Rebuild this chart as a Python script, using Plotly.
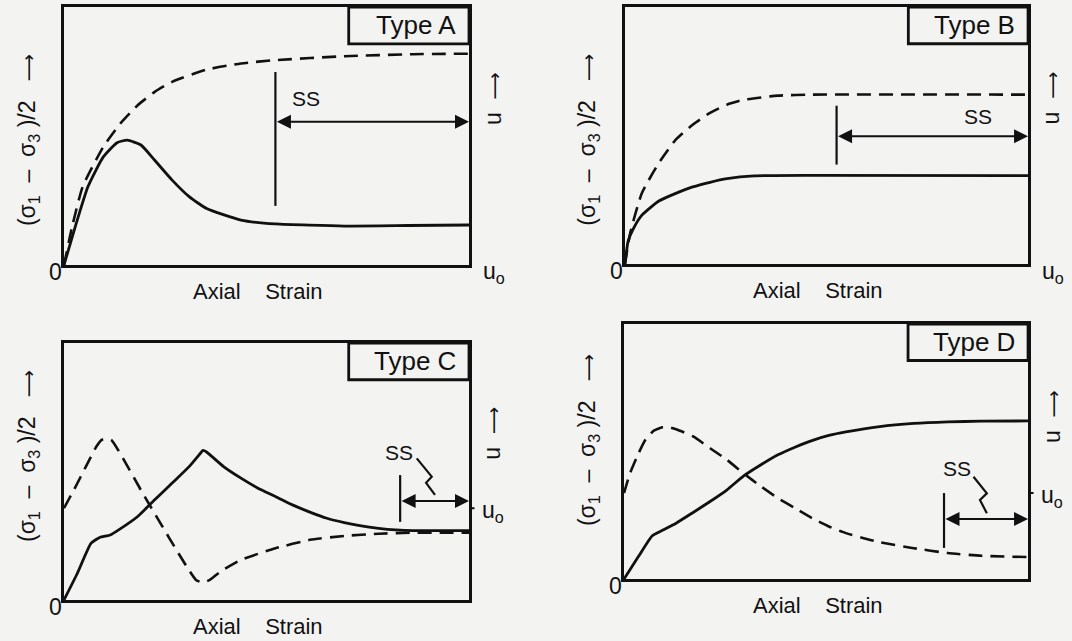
import plotly.graph_objects as go

# ---------------- data: strain (0..1) vs. normalised stress / pore pressure ----------------
# Type A
a_stress_x = [0, 0.03, 0.059, 0.097, 0.131, 0.156, 0.19, 0.224, 0.267, 0.309, 0.352, 0.437, 0.522, 0.692, 0.85, 1.0]
a_stress_y = [0, 0.16, 0.303, 0.419, 0.474, 0.484, 0.465, 0.406, 0.329, 0.265, 0.219, 0.174, 0.159, 0.151, 0.153, 0.155]
a_pore_x = [0, 0.02, 0.046, 0.097, 0.139, 0.182, 0.224, 0.267, 0.352, 0.437, 0.522, 0.692, 0.862, 1.0]
a_pore_y = [0, 0.148, 0.303, 0.458, 0.548, 0.619, 0.671, 0.71, 0.757, 0.781, 0.794, 0.809, 0.817, 0.819]

# Type B
b_stress_x = [0, 0.008, 0.02, 0.042, 0.084, 0.126, 0.168, 0.211, 0.253, 0.32, 0.46, 1.0]
b_stress_y = [0, 0.09, 0.135, 0.19, 0.245, 0.275, 0.3, 0.318, 0.332, 0.343, 0.345, 0.344]
b_pore_x = [0, 0.013, 0.042, 0.084, 0.126, 0.168, 0.211, 0.253, 0.295, 0.379, 0.463, 1.01]
b_pore_y = [0, 0.121, 0.276, 0.393, 0.484, 0.542, 0.588, 0.62, 0.639, 0.655, 0.659, 0.659]

# Type C
c_stress_x = [0, 0.033, 0.067, 0.088, 0.114, 0.135, 0.182, 0.224, 0.267, 0.309, 0.339, 0.343, 0.352,
              0.394, 0.437, 0.479, 0.522, 0.564, 0.607, 0.649, 0.692, 0.734, 0.777, 0.819, 0.862, 1.0]
c_stress_y = [0, 0.104, 0.221, 0.243, 0.253, 0.273, 0.325, 0.39, 0.455, 0.519, 0.575, 0.582, 0.576,
              0.519, 0.474, 0.435, 0.403, 0.37, 0.342, 0.318, 0.301, 0.288, 0.279, 0.273, 0.27, 0.27]
c_pore_x = [0, 0.029, 0.054, 0.08, 0.093, 0.105, 0.118, 0.2, 0.326, 0.343, 0.36, 0.386, 0.437,
            0.522, 0.607, 0.692, 0.777, 0.862, 1.0]
c_pore_y = [0.357, 0.442, 0.519, 0.597, 0.623, 0.629, 0.621, 0.4, 0.078, 0.068, 0.078, 0.11, 0.156,
            0.201, 0.234, 0.249, 0.258, 0.262, 0.262]

# Type D
d_stress_x = [0, 0.036, 0.07, 0.095, 0.129, 0.171, 0.213, 0.255, 0.297, 0.339, 0.381, 0.423, 0.465,
              0.507, 0.549, 0.633, 0.717, 0.801, 0.885, 1.0]
d_stress_y = [0, 0.089, 0.17, 0.191, 0.219, 0.261, 0.304, 0.35, 0.405, 0.448, 0.487, 0.517, 0.543,
              0.563, 0.577, 0.598, 0.61, 0.616, 0.619, 0.62]
d_pore_x = [0, 0.015, 0.036, 0.053, 0.074, 0.095, 0.112, 0.129, 0.171, 0.213, 0.255, 0.297, 0.339,
            0.381, 0.423, 0.465, 0.507, 0.549, 0.591, 0.633, 0.717, 0.801, 0.885, 1.0]
d_pore_y = [0.337, 0.415, 0.493, 0.546, 0.582, 0.595, 0.595, 0.587, 0.559, 0.513, 0.467, 0.413, 0.363,
            0.317, 0.278, 0.239, 0.206, 0.18, 0.161, 0.144, 0.121, 0.102, 0.091, 0.086]

# steady-state ("SS") markers: [x of bar, bar bottom, bar top, arrow level]
ss_a = [0.522, 0.229, 0.748, 0.555]
ss_b = [0.525, 0.387, 0.616, 0.497]
ss_c = [0.830, 0.304, 0.486, 0.385]
ss_d = [0.792, 0.122, 0.337, 0.235]
ss_label_a = [0.598, 0.645]
ss_label_b = [0.876, 0.575]
ss_label_c = [0.826, 0.574]
ss_label_d = [0.825, 0.433]
# leader zig-zags joining the SS label to its arrow
zig_c_x = [0.871, 0.908, 0.894, 0.916]
zig_c_y = [0.551, 0.480, 0.456, 0.409]
zig_d_x = [0.865, 0.898, 0.881, 0.898]
zig_d_y = [0.401, 0.336, 0.310, 0.258]

ARROW = '<span style="font-family:DejaVu Sans;font-size:19px">\u27f6</span>'
SP = "\u00a0"
type_labels = ["Type A", "Type B", "Type C", "Type D"]
x_title = "Axial" + SP * 3 + " Strain"
y_title = "(σ<sub>1</sub>" + SP + " \u2013" + SP + " σ<sub>3</sub>" + SP + ")/2" + SP * 2 + " " + ARROW
u_title = "u" + SP + " " + ARROW

# page placement of the four boxes (paper fractions)
domains = [
    ([0.0597, 0.4375], [0.5866, 0.9891]),
    ([0.5830, 0.9590], [0.5881, 0.9891]),
    ([0.0597, 0.4375], [0.0640, 0.4649]),
    ([0.5821, 0.9590], [0.0967, 0.4945]),
]

panels = [
    dict(sx=a_stress_x, sy=a_stress_y, px=a_pore_x, py=a_pore_y, ss=ss_a, lab=ss_label_a, zig=None,
         uo_mid=False, ytitle_y=0.484, u_y=0.645),
    dict(sx=b_stress_x, sy=b_stress_y, px=b_pore_x, py=b_pore_y, ss=ss_b, lab=ss_label_b, zig=None,
         uo_mid=False, ytitle_y=0.484, u_y=0.646),
    dict(sx=c_stress_x, sy=c_stress_y, px=c_pore_x, py=c_pore_y, ss=ss_c, lab=ss_label_c,
         zig=(zig_c_x, zig_c_y), uo_mid=True, ytitle_y=0.56, u_y=0.649),
    dict(sx=d_stress_x, sy=d_stress_y, px=d_pore_x, py=d_pore_y, ss=ss_d, lab=ss_label_d,
         zig=(zig_d_x, zig_d_y), uo_mid=True, ytitle_y=0.545, u_y=0.637),
]

FONT = "Liberation Sans, Arial, Helvetica, sans-serif"
INK = "#111111"
BG = "#f3f3f1"


def label(xd, yd, x, y, text, size, **kw):
    """Centred text annotation positioned in axis-domain coordinates."""
    d = dict(xref=xd, yref=yd, x=x, y=y, text=text, showarrow=False,
             xanchor="center", yanchor="middle", font=dict(size=size, family=FONT, color=INK))
    d.update(kw)
    return d


fig = go.Figure()
annotations = []
shapes = []

for i, p in enumerate(panels):
    n = "" if i == 0 else str(i + 1)
    xr, yr = "x" + n, "y" + n
    # domain references: same 0..1 mapping as the data axes, but text may sit outside the box
    xd, yd = xr + " domain", yr + " domain"

    # shear stress (solid) and pore pressure (dashed)
    fig.add_trace(go.Scatter(x=p["sx"], y=p["sy"], mode="lines", xaxis=xr, yaxis=yr,
                             line=dict(color=INK, width=2.8, shape="spline", smoothing=0.5),
                             hoverinfo="skip", showlegend=False))
    fig.add_trace(go.Scatter(x=p["px"], y=p["py"], mode="lines", xaxis=xr, yaxis=yr,
                             line=dict(color=INK, width=2.6, dash="14px,8px", shape="spline", smoothing=0.5),
                             hoverinfo="skip", showlegend=False))
    if p["zig"] is not None:
        fig.add_trace(go.Scatter(x=p["zig"][0], y=p["zig"][1], mode="lines", xaxis=xr, yaxis=yr,
                                 line=dict(color=INK, width=2.2), hoverinfo="skip", showlegend=False))

    fig.update_layout(**{
        ("xaxis" + n): dict(domain=domains[i][0], range=[0, 1], showgrid=False, zeroline=False,
                            showticklabels=False, ticks="", showline=True, mirror=True,
                            linecolor=INK, linewidth=2.8, fixedrange=True, anchor=yr),
        ("yaxis" + n): dict(domain=domains[i][1], range=[0, 1], showgrid=False, zeroline=False,
                            showticklabels=False, ticks="", showline=True, mirror=True,
                            linecolor=INK, linewidth=2.8, fixedrange=True, anchor=xr),
    })

    # label box in the upper right corner
    shapes.append(dict(type="rect", xref=xr, yref=yr, x0=0.703, x1=1.0, y0=0.857, y1=1.0,
                       line=dict(color=INK, width=2.8), fillcolor=BG, layer="above"))
    annotations.append(label(xd, yd, 0.972, 0.93, type_labels[i], 26, xanchor="right"))

    # SS bar and double-headed arrow
    sx, sb, st, sa = p["ss"]
    shapes.append(dict(type="line", xref=xr, yref=yr, x0=sx, x1=sx, y0=sb, y1=st,
                       line=dict(color=INK, width=2.2)))
    annotations.append(dict(xref=xr, yref=yr, axref=xr, ayref=yr, x=1.0, y=sa, ax=sx, ay=sa, text="",
                            showarrow=True, arrowside="end+start", arrowhead=2, startarrowhead=2,
                            arrowsize=1.4, startarrowsize=1.4, arrowwidth=2.0, arrowcolor=INK,
                            standoff=0, startstandoff=0))
    annotations.append(label(xd, yd, p["lab"][0], p["lab"][1], "SS", 21))

    # axis wording
    annotations.append(label(xd, yd, -0.02, -0.027, "0", 23))
    annotations.append(label(xd, yd, 0.48, -0.104, x_title, 22))
    annotations.append(label(xd, yd, -0.089, p["ytitle_y"], y_title, 23, textangle=-90))
    annotations.append(label(xd, yd, 1.058, p["u_y"], u_title, 23, textangle=-90))

    # initial pore pressure u_o
    if p["uo_mid"]:
        uo = p["py"][0]
        annotations.append(dict(xref=xd, yref=yd, x=1.0, y=uo, ax=7, ay=0, text="", showarrow=True,
                                arrowhead=0, arrowwidth=2.0, arrowcolor=INK, standoff=0))
        annotations.append(label(xd, yd, 1.028, uo, "u<sub>o</sub>", 23, xanchor="left", yshift=-3))
    else:
        annotations.append(label(xd, yd, 1.03, 0, "u<sub>o</sub>", 23, xanchor="left", yshift=-8))

fig.update_layout(
    width=1072, height=641,
    margin=dict(l=0, r=0, t=0, b=0),
    paper_bgcolor=BG, plot_bgcolor=BG,
    showlegend=False,
    annotations=annotations, shapes=shapes,
    font=dict(family=FONT, color=INK),
)

fig.write_html("out.html")
